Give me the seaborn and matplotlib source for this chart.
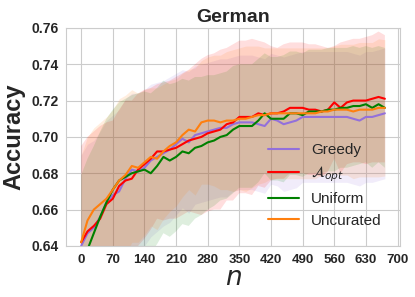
import numpy as np
import pandas as pd
import matplotlib
matplotlib.use("Agg")
import matplotlib.pyplot as plt
import seaborn as sns

n_values = list(range(0, 673, 14))

greedy_mean = [0.640, 0.647, 0.650, 0.656, 0.664, 0.668, 0.670, 0.677, 0.682, 0.681,
               0.683, 0.687, 0.689, 0.691, 0.693, 0.696, 0.699, 0.697, 0.701, 0.702,
               0.703, 0.704, 0.705, 0.705, 0.707, 0.708, 0.708, 0.708, 0.707, 0.706,
               0.710, 0.709, 0.707, 0.708, 0.709, 0.711, 0.711, 0.711, 0.711, 0.711,
               0.711, 0.711, 0.711, 0.710, 0.709, 0.711, 0.711, 0.712, 0.713]
aopt_mean = [0.642, 0.648, 0.651, 0.655, 0.663, 0.666, 0.673, 0.676, 0.677, 0.682,
             0.685, 0.688, 0.692, 0.692, 0.693, 0.694, 0.696, 0.698, 0.699, 0.700,
             0.702, 0.703, 0.704, 0.707, 0.708, 0.711, 0.711, 0.711, 0.713, 0.712,
             0.713, 0.713, 0.714, 0.716, 0.716, 0.716, 0.715, 0.715, 0.714, 0.715,
             0.719, 0.716, 0.719, 0.720, 0.720, 0.720, 0.721, 0.722, 0.721]
uniform_mean = [0.629, 0.638, 0.647, 0.656, 0.664, 0.671, 0.676, 0.678, 0.680, 0.681,
                0.682, 0.680, 0.684, 0.689, 0.687, 0.689, 0.692, 0.691, 0.694, 0.695,
                0.697, 0.698, 0.700, 0.701, 0.704, 0.706, 0.706, 0.706, 0.709, 0.713,
                0.710, 0.710, 0.710, 0.713, 0.713, 0.712, 0.714, 0.714, 0.714, 0.715,
                0.715, 0.716, 0.716, 0.717, 0.717, 0.718, 0.716, 0.718, 0.716]
uncurated_mean = [0.642, 0.654, 0.660, 0.663, 0.666, 0.671, 0.676, 0.679, 0.684, 0.683,
                  0.686, 0.689, 0.688, 0.692, 0.695, 0.697, 0.701, 0.704, 0.703, 0.708,
                  0.709, 0.709, 0.708, 0.709, 0.709, 0.710, 0.710, 0.711, 0.712, 0.712,
                  0.713, 0.713, 0.713, 0.713, 0.713, 0.713, 0.713, 0.713, 0.714, 0.714,
                  0.715, 0.715, 0.715, 0.714, 0.715, 0.715, 0.715, 0.716, 0.716]

greedy_std = [0.050, 0.049, 0.048, 0.047, 0.045, 0.044, 0.045, 0.044, 0.042, 0.043,
              0.043, 0.042, 0.041, 0.040, 0.040, 0.039, 0.038, 0.039, 0.038, 0.038,
              0.038, 0.038, 0.038, 0.038, 0.037, 0.037, 0.037, 0.037, 0.037, 0.037,
              0.036, 0.036, 0.037, 0.037, 0.037, 0.036, 0.036, 0.036, 0.036, 0.036,
              0.036, 0.036, 0.036, 0.036, 0.036, 0.036, 0.036, 0.036, 0.036]
aopt_std = [0.053, 0.052, 0.052, 0.051, 0.045, 0.043, 0.042, 0.044, 0.043, 0.042,
            0.041, 0.039, 0.037, 0.038, 0.038, 0.039, 0.039, 0.039, 0.041, 0.043,
            0.043, 0.043, 0.044, 0.042, 0.043, 0.042, 0.042, 0.043, 0.040, 0.040,
            0.037, 0.036, 0.037, 0.036, 0.036, 0.036, 0.036, 0.036, 0.036, 0.034,
            0.031, 0.036, 0.034, 0.034, 0.034, 0.035, 0.035, 0.036, 0.035]
uniform_std = [0.050, 0.050, 0.048, 0.047, 0.046, 0.044, 0.043, 0.043, 0.043, 0.043,
               0.043, 0.044, 0.043, 0.042, 0.042, 0.041, 0.040, 0.040, 0.039, 0.038,
               0.037, 0.036, 0.035, 0.035, 0.035, 0.034, 0.034, 0.034, 0.034, 0.033,
               0.034, 0.034, 0.035, 0.034, 0.034, 0.034, 0.034, 0.034, 0.034, 0.034,
               0.034, 0.033, 0.033, 0.033, 0.032, 0.032, 0.033, 0.032, 0.033]
uncurated_std = [0.048, 0.046, 0.045, 0.045, 0.045, 0.044, 0.045, 0.044, 0.042, 0.041,
                 0.040, 0.038, 0.039, 0.037, 0.036, 0.035, 0.034, 0.033, 0.035, 0.034,
                 0.035, 0.036, 0.037, 0.038, 0.039, 0.039, 0.040, 0.039, 0.038, 0.037,
                 0.036, 0.036, 0.036, 0.036, 0.036, 0.036, 0.036, 0.036, 0.035, 0.035,
                 0.035, 0.036, 0.036, 0.037, 0.037, 0.037, 0.037, 0.038, 0.0375]

methods = ["Greedy", r"$\mathcal{A}_{opt}$", "Uniform", "Uncurated"]
colors = ["mediumpurple", "red", "green", "tab:orange"]
means = [greedy_mean, aopt_mean, uniform_mean, uncurated_mean]
stds = [greedy_std, aopt_std, uniform_std, uncurated_std]

x_ticks = list(range(0, 701, 70))
y_ticks = [0.64, 0.66, 0.68, 0.70, 0.72, 0.74, 0.76]

sns.set_style("whitegrid")
plt.rcParams["font.family"] = ["Liberation Sans", "DejaVu Sans"]

rows = []
for name, m in zip(methods, means):
    for xv, yv in zip(n_values, m):
        rows.append({"n": xv, "acc": yv, "method": name})
df = pd.DataFrame(rows)

fig = plt.figure(figsize=(4.15, 2.97), dpi=100)
ax = fig.add_axes([0.159, 0.172, 0.805, 0.734])

x = np.array(n_values)
for m, s, c in zip(means, stds, colors):
    m = np.array(m); s = np.array(s)
    ax.fill_between(x, m - s, m + s, color=c, alpha=0.13, linewidth=0)

sns.lineplot(data=df, x="n", y="acc", hue="method", hue_order=methods,
             palette=colors, linewidth=1.5, ax=ax, errorbar=None)

ax.set_xlim(-33.6, 705.6)
ax.set_ylim(0.64, 0.76)
ax.set_xticks(x_ticks)
ax.set_yticks(y_ticks)
ax.set_xticklabels([str(t) for t in x_ticks], fontweight="bold", fontsize=9.5)
ax.set_yticklabels([f"{t:.2f}" for t in y_ticks], fontweight="bold", fontsize=10)
ax.tick_params(axis="both", pad=2)
ax.set_title("German", fontweight="bold", fontsize=14, pad=4)
ax.set_xlabel("$n$", fontsize=19, labelpad=0)
ax.set_ylabel("Accuracy", fontweight="bold", fontsize=17, labelpad=4)

handles, labels = ax.get_legend_handles_labels()
ax.legend(handles, labels, loc="lower right", fontsize=11, frameon=False,
          borderaxespad=0.8)

fig.savefig("out.png", dpi=100)
